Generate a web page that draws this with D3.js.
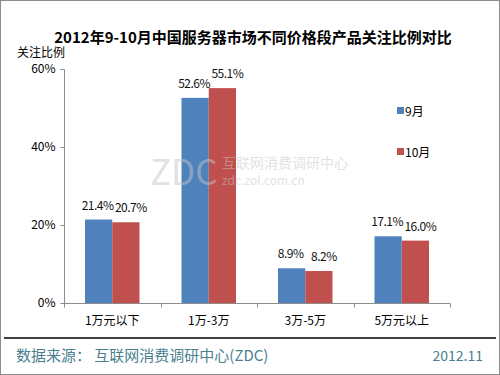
<!DOCTYPE html>
<html>
<head>
<meta charset="utf-8">
<script src="https://cdn.jsdelivr.net/npm/d3@7"></script>
<style>
  body { margin: 0; background: #fff; }
  svg text { font-family: "Noto Sans CJK SC", "Liberation Sans", sans-serif; }
</style>
</head>
<body>
<div class="chart"></div>
<script>
  'use strict';

  var categories = ['1万元以下', '1万-3万', '3万-5万', '5万元以上'];
  var seriesNames = ['9月', '10月'];
  var sep = [21.4, 52.6, 8.9, 17.1];
  var oct = [20.7, 55.1, 8.2, 16.0];
  var yTicks = [0, 20, 40, 60];
  var colors = ['#4f81bd', '#c0504d'];

  var w = 500, h = 375;
  var svg = d3.select('.chart').append('svg').attr('width', w).attr('height', h);

  svg.append('rect').attr('x', 0.5).attr('y', 0.5).attr('width', w - 1).attr('height', h - 1)
    .attr('fill', '#fff').attr('stroke', '#8c8c8c');

  var x = d3.scaleBand().domain(categories).range([64, 450]);
  var y = d3.scaleLinear().domain([0, 60]).range([303, 69]);

  svg.append('text').attr('x', 253).attr('y', 43).attr('text-anchor', 'middle')
    .attr('font-size', 15).attr('font-weight', 'bold').attr('fill', '#000')
    .text('2012年9-10月中国服务器市场不同价格段产品关注比例对比');

  svg.append('text').attr('x', 17).attr('y', 57).attr('font-size', 12).attr('fill', '#000').text('关注比例');

  // axes
  var yAxis = svg.append('g').attr('transform', 'translate(64.5,0)')
    .call(d3.axisLeft(y).tickValues(yTicks).tickSize(4).tickPadding(5).tickFormat(function (d) { return d + '%'; }));
  yAxis.select('.domain').attr('stroke', '#8c8c8c').attr('d', 'M-4,69.5H0V303.5');
  yAxis.selectAll('line').attr('stroke', '#8c8c8c');
  yAxis.selectAll('text').attr('font-size', 12).attr('fill', '#000')
    .attr('font-family', '"Liberation Sans", sans-serif');

  var xAxis = svg.append('g').attr('transform', 'translate(0,303.5)');
  xAxis.append('line').attr('x1', 64).attr('x2', 450).attr('stroke', '#8c8c8c');
  xAxis.selectAll('.tk').data([64].concat(categories.map(function (c) { return x(c) + x.bandwidth(); })))
    .enter().append('line').attr('class', 'tk')
    .attr('x1', function (d) { return Math.round(d) + 0.5; })
    .attr('x2', function (d) { return Math.round(d) + 0.5; })
    .attr('y1', 0).attr('y2', 4).attr('stroke', '#8c8c8c');
  xAxis.selectAll('.lbl').data(categories).enter().append('text').attr('class', 'lbl')
    .attr('x', function (d) { return x(d) + x.bandwidth() / 2; }).attr('y', 21)
    .attr('text-anchor', 'middle').attr('font-size', 12).attr('fill', '#000').text(function (d) { return d; });

  // bars
  var inner = d3.scaleBand().domain(seriesNames).range([21, x.bandwidth() - 21]);
  var labelShift = [-1, 5];
  [sep, oct].forEach(function (vals, si) {
    var g = svg.append('g');
    g.selectAll('rect').data(vals).enter().append('rect')
      .attr('x', function (d, i) { return x(categories[i]) + inner(seriesNames[si]); })
      .attr('y', function (d) { return y(d); })
      .attr('width', inner.bandwidth())
      .attr('height', function (d) { return y(0) - y(d); })
      .attr('fill', colors[si]);
    g.selectAll('text').data(vals).enter().append('text')
      .attr('x', function (d, i) { return x(categories[i]) + inner(seriesNames[si]) + inner.bandwidth() / 2 + labelShift[si]; })
      .attr('y', function (d) { return y(d) - 10; })
      .attr('text-anchor', 'middle').attr('font-size', 12).attr('fill', '#111')
      .attr('font-family', '"Liberation Sans", sans-serif').attr('letter-spacing', '-0.5')
      .text(function (d) { return d.toFixed(1) + '%'; });
  });

  // watermark, faint and over the bars
  var wm = svg.append('g').attr('fill', '#c4c4c4').attr('fill-opacity', 0.5);
  wm.append('text').attr('x', 150).attr('y', 185).attr('font-size', 35)
    .attr('font-family', 'Liberation Sans').text('ZDC');
  wm.append('text').attr('x', 222).attr('y', 168).attr('font-size', 14)
    .text('互联网消费调研中心');
  wm.append('text').attr('x', 222).attr('y', 185).attr('font-size', 12)
    .attr('font-family', 'Liberation Sans').text('zdc.zol.com.cn');

  // legend
  var legY = [111, 152];
  seriesNames.forEach(function (n, i) {
    svg.append('rect').attr('x', 397).attr('y', legY[i] - 4).attr('width', 7).attr('height', 7).attr('fill', colors[i]);
    svg.append('text').attr('x', 405).attr('y', legY[i] + 4.5).attr('font-size', 12).attr('fill', '#000').text(n);
  });

  // footer
  svg.append('line').attr('x1', 4).attr('x2', 496).attr('y1', 338).attr('y2', 338)
    .attr('stroke', '#000').attr('stroke-width', 1.5);
  svg.append('text').attr('x', 16).attr('y', 361).attr('font-size', 15).attr('fill', '#4a7f8f')
    .text('数据来源： 互联网消费调研中心(ZDC)');
  svg.append('text').attr('x', 483).attr('y', 361).attr('text-anchor', 'end').attr('font-size', 14).attr('fill', '#4a7f8f')
    .attr('font-family', '"Liberation Sans", sans-serif').text('2012.11');
</script>
</body>
</html>
